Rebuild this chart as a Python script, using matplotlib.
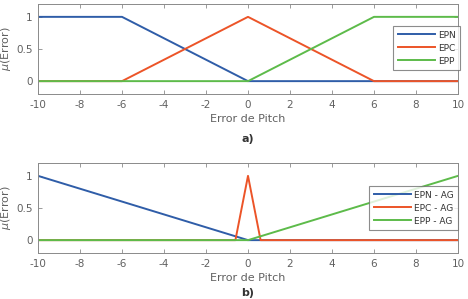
import matplotlib.pyplot as plt
import numpy as np

# membership functions, panel a)
x_a = [-10, -6, 0, 6, 10]
epn = [1, 1, 0, 0, 0]
epc = [0, 0, 1, 0, 0]
epp = [0, 0, 0, 1, 1]

# panel b) (AG tuned)
x_epn_ag = [-10, 0, 10]
epn_ag = [1, 0, 0]
x_epc_ag = [-10, -0.6, 0, 0.6, 10]
epc_ag = [0, 0, 1, 0, 0]
x_epp_ag = [-10, 0, 10]
epp_ag = [0, 0, 1]

xticks = np.arange(-10, 11, 2)
yticks = [0, 0.5, 1]

BLUE = "#2F5DA8"
RED = "#EC5428"
GREEN = "#5DBB4A"
GREY = "#606060"

plt.rcParams["font.family"] = "DejaVu Sans"
plt.rcParams["axes.unicode_minus"] = False

fig = plt.figure(figsize=(4.68, 2.99), dpi=100)
W, H = 468, 299
L, R = 38, 458


def style(ax):
    ax.set_xlim(-10, 10)
    ax.set_ylim(-0.2, 1.2)
    ax.set_xticks(xticks)
    ax.set_yticks(yticks)
    ax.set_yticklabels(["0", "0.5", "1"])
    ax.tick_params(direction="in", length=3, labelsize=7.5,
                   top=True, right=True, width=0.6, pad=4,
                   colors="#8a8a8a", labelcolor=GREY)
    for s in ax.spines.values():
        s.set_color("#8a8a8a")
        s.set_linewidth(0.7)
    ax.set_xlabel("Error de Pitch", color=GREY, fontsize=8, labelpad=3)
    ax.set_ylabel(r"$\mu$(Error)", color=GREY, fontsize=8, labelpad=2)


def leg(ax, loc_box):
    lg = ax.legend(loc="upper left", bbox_to_anchor=loc_box, fontsize=6.5,
                   frameon=True, fancybox=False, handlelength=4.2,
                   borderpad=0.5, labelspacing=0.45, handletextpad=0.3,
                   borderaxespad=0)
    lg.get_frame().set_edgecolor("#707070")
    lg.get_frame().set_linewidth(0.8)
    for t in lg.get_texts():
        t.set_color("#333333")


ax1 = fig.add_axes([L / W, 1 - 94 / H, (R - L) / W, 90 / H])
ax1.plot(x_a, epn, color=BLUE, lw=1.4, label="EPN")
ax1.plot(x_a, epc, color=RED, lw=1.4, label="EPC")
ax1.plot(x_a, epp, color=GREEN, lw=1.4, label="EPP")
style(ax1)
leg(ax1, ((393 - L) / (R - L), (94 - 26) / 90))
fig.text(248 / W, 1 - 139 / H, "a)", ha="center", va="center",
         fontsize=8, fontweight="bold", color="#333333")

ax2 = fig.add_axes([L / W, 1 - 253 / H, (R - L) / W, 90 / H])
ax2.plot(x_epn_ag, epn_ag, color=BLUE, lw=1.4, label="EPN - AG")
ax2.plot(x_epc_ag, epc_ag, color=RED, lw=1.4, label="EPC - AG")
ax2.plot(x_epp_ag, epp_ag, color=GREEN, lw=1.4, label="EPP - AG")
style(ax2)
leg(ax2, ((369 - L) / (R - L), (253 - 186) / 90))
fig.text(248 / W, 1 - 293 / H, "b)", ha="center", va="center",
         fontsize=8, fontweight="bold", color="#333333")

fig.savefig("out.png", dpi=100)
